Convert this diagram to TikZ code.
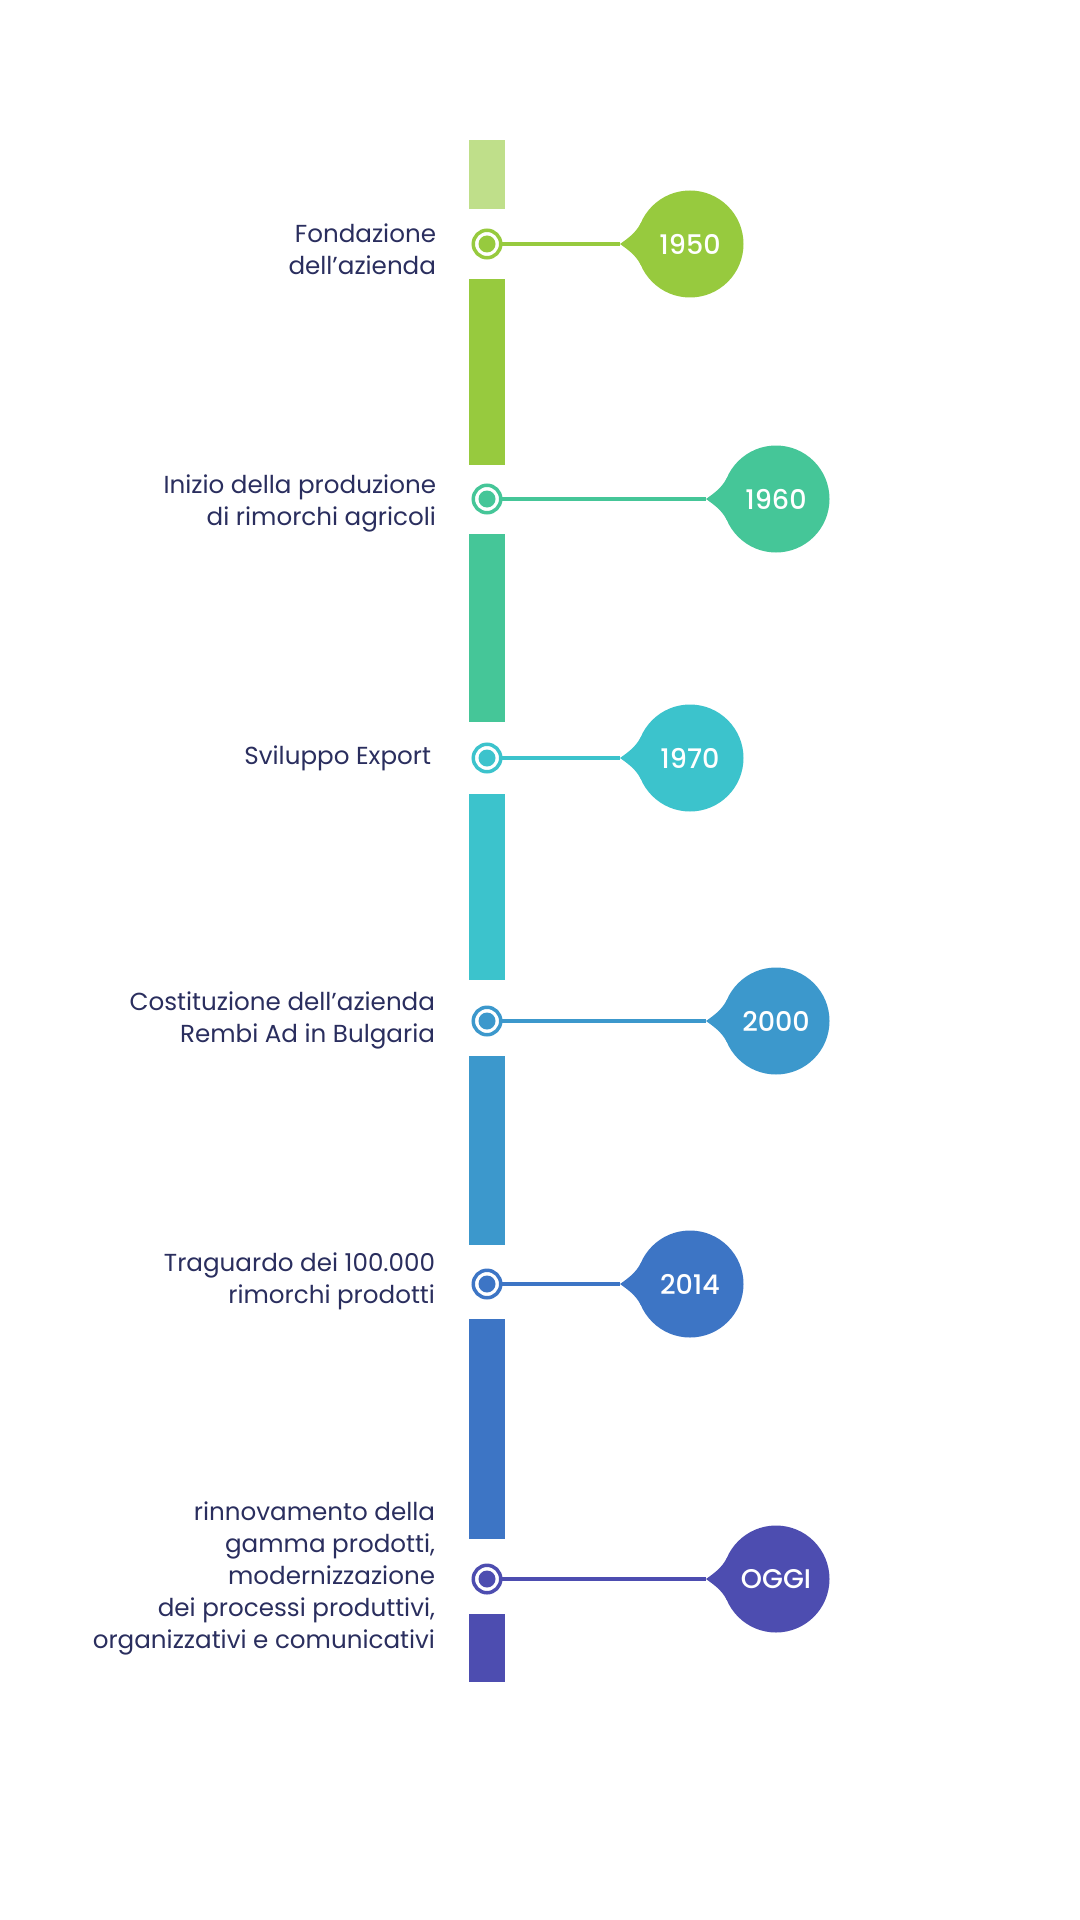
\documentclass[tikz,border=0pt]{standalone}
\usepackage{fontspec}
\setmainfont{Poppins}
\newfontfamily\annofont{Poppins Medium}
\definecolor{verdechiaro}{HTML}{BFDF8A}
\definecolor{verde}{HTML}{97CA3E}
\definecolor{smeraldo}{HTML}{45C698}
\definecolor{ciano}{HTML}{3CC3CC}
\definecolor{azzurro}{HTML}{3C98CC}
\definecolor{blu}{HTML}{3D75C5}
\definecolor{viola}{HTML}{4D4DB0}
\definecolor{testo}{HTML}{2A2E5E}
\begin{document}
\begin{tikzpicture}[x=0.5pt,y=0.5pt,
		every node/.append style={inner sep=0pt,outer sep=0pt},
		tappa/.style={circle,draw=#1,line width=1.75pt,fill=white,minimum size=13.75pt,
			path picture={\fill[#1] (path picture bounding box.center) circle (4.25pt);}},
		anno/.style={circle,fill=#1,minimum size=53.5pt,text=white,
			font=\annofont\fontsize{13.5}{13.5}\selectfont},
		filo/.style={draw=#1,line width=2.25pt},
		etichetta/.style={anchor=east,align=right,text=testo,
			font=\fontsize{12.3}{16}\selectfont}
	]
	\useasboundingbox (0,0) rectangle (1080,-1920);
	% barre
	\fill[verdechiaro] (469,-140) rectangle (505,-209);
	\fill[verde] (469,-279) rectangle (505,-465);
	\fill[smeraldo] (469,-534) rectangle (505,-722);
	\fill[ciano] (469,-794) rectangle (505,-980);
	\fill[azzurro] (469,-1056) rectangle (505,-1245);
	\fill[blu] (469,-1319) rectangle (505,-1539);
	\fill[viola] (469,-1614) rectangle (505,-1682);
	% 1950
	\node[anno=verde] (B1) at (690,-244) {1950};
	\coordinate (P1) at (620,-244);
	\node[tappa=verde] (M1) at (487,-244) {};
	\node[etichetta] (T1) at (436,-249) {Fondazione\\dell’azienda};
	\draw[filo=verde] (M1) -- (P1);
	\fill[verde] (P1) .. controls +(7,5) and +(-5,-10) .. (B1.157) -- (B1.203)
		.. controls +(-5,10) and +(7,-5) .. (P1);
	% 1960
	\node[anno=smeraldo] (B2) at (776,-499) {1960};
	\coordinate (P2) at (706,-499);
	\node[tappa=smeraldo] (M2) at (487,-499) {};
	\node[etichetta] (T2) at (436,-503) {Inizio della produzione\\di rimorchi agricoli};
	\draw[filo=smeraldo] (M2) -- (P2);
	\fill[smeraldo] (P2) .. controls +(7,5) and +(-5,-10) .. (B2.157) -- (B2.203)
		.. controls +(-5,10) and +(7,-5) .. (P2);
	% 1970
	\node[anno=ciano] (B3) at (690,-758) {1970};
	\coordinate (P3) at (620,-758);
	\node[tappa=ciano] (M3) at (487,-758) {};
	\node[etichetta] (T3) at (431,-758) {Sviluppo Export};
	\draw[filo=ciano] (M3) -- (P3);
	\fill[ciano] (P3) .. controls +(7,5) and +(-5,-10) .. (B3.157) -- (B3.203)
		.. controls +(-5,10) and +(7,-5) .. (P3);
	% 2000
	\node[anno=azzurro] (B4) at (776,-1021) {2000};
	\coordinate (P4) at (706,-1021);
	\node[tappa=azzurro] (M4) at (487,-1021) {};
	\node[etichetta] (T4) at (435,-1020) {Costituzione dell’azienda\\Rembi Ad in Bulgaria};
	\draw[filo=azzurro] (M4) -- (P4);
	\fill[azzurro] (P4) .. controls +(7,5) and +(-5,-10) .. (B4.157) -- (B4.203)
		.. controls +(-5,10) and +(7,-5) .. (P4);
	% 2014
	\node[anno=blu] (B5) at (690,-1284) {2014};
	\coordinate (P5) at (620,-1284);
	\node[tappa=blu] (M5) at (487,-1284) {};
	\node[etichetta] (T5) at (435,-1281) {Traguardo dei 100.000\\rimorchi prodotti};
	\draw[filo=blu] (M5) -- (P5);
	\fill[blu] (P5) .. controls +(7,5) and +(-5,-10) .. (B5.157) -- (B5.203)
		.. controls +(-5,10) and +(7,-5) .. (P5);
	% oggi
	\node[anno=viola] (B6) at (776,-1579) {OGGI};
	\coordinate (P6) at (706,-1579);
	\node[tappa=viola] (M6) at (487,-1579) {};
	\node[etichetta] (T6) at (435,-1578) {rinnovamento della\\gamma prodotti,\\modernizzazione\\dei processi produttivi,\\organizzativi e comunicativi};
	\draw[filo=viola] (M6) -- (P6);
	\fill[viola] (P6) .. controls +(7,5) and +(-5,-10) .. (B6.157) -- (B6.203)
		.. controls +(-5,10) and +(7,-5) .. (P6);
\end{tikzpicture}
\end{document}
